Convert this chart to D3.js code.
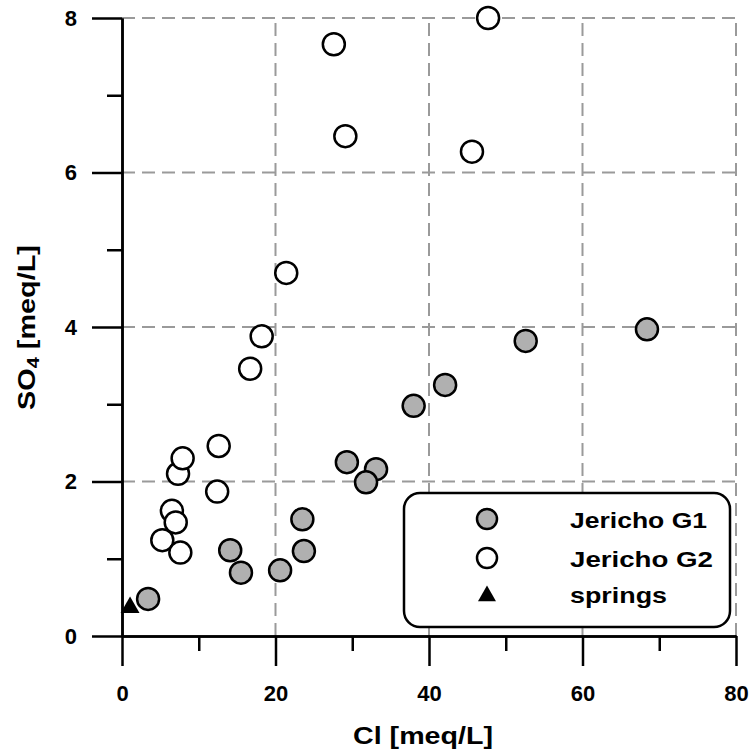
<!DOCTYPE html>
<html>
<head>
<meta charset="utf-8">
<script src="https://cdn.jsdelivr.net/npm/d3@7"></script>
<style>
  html, body { margin: 0; padding: 0; background: #fff; }
  svg { display: block; font-family: "Liberation Sans", Arial, sans-serif; }
</style>
</head>
<body>
<svg id="chart" width="749" height="755"></svg>
<script>
// Data
const g1X = [3.4, 14.1, 15.5, 20.6, 23.5, 23.7, 29.3, 33.1, 31.8, 38.0, 42.1, 52.6, 68.4];
const g1Y = [0.48, 1.11, 0.82, 0.85, 1.51, 1.10, 2.25, 2.16, 1.99, 2.98, 3.25, 3.82, 3.97];
const g2X = [5.25, 6.5, 7.0, 7.6, 7.3, 7.9, 12.4, 12.6, 16.7, 18.2, 21.4, 27.6, 29.1, 45.6, 47.7];
const g2Y = [1.24, 1.62, 1.47, 1.08, 2.10, 2.30, 1.87, 2.46, 3.46, 3.88, 4.70, 7.66, 6.47, 6.27, 8.0];
const springX = [1.05];
const springY = [0.37];
const xTicks = [0, 20, 40, 60, 80];
const yTicks = [0, 2, 4, 6, 8];
const xMinor = [10, 30, 50, 70];
const yMinor = [1, 3, 5, 7];
const legendLabels = ["Jericho G1", "Jericho G2", "springs"];

const svg = d3.select("#chart");
const x = d3.scaleLinear().domain([0, 80]).range([122, 736]);
const y = d3.scaleLinear().domain([0, 8]).range([636, 18]);

const gridColor = "#9a9a9a";
// grid
svg.append("g").selectAll("line").data(xTicks.filter(d => d > 0)).join("line")
  .attr("x1", d => x(d)).attr("x2", d => x(d))
  .attr("y1", y(0)).attr("y2", y(8))
  .attr("stroke", gridColor).attr("stroke-width", 2).attr("stroke-dasharray", "13,7");
svg.append("g").selectAll("line").data(yTicks.filter(d => d > 0)).join("line")
  .attr("y1", d => y(d)).attr("y2", d => y(d))
  .attr("x1", x(0)).attr("x2", x(80))
  .attr("stroke", gridColor).attr("stroke-width", 2).attr("stroke-dasharray", "13,7");

// axes
const xAxis = d3.axisBottom(x).tickValues(xTicks).tickSize(30).tickPadding(19).tickSizeOuter(0);
const xAxisMinor = d3.axisBottom(x).tickValues(xMinor).tickSize(15).tickFormat("").tickSizeOuter(0);
const yAxis = d3.axisLeft(y).tickValues(yTicks).tickSize(30).tickPadding(15).tickSizeOuter(0);
const yAxisMinor = d3.axisLeft(y).tickValues(yMinor).tickSize(15).tickFormat("").tickSizeOuter(0);

function styleAxis(g) {
  g.selectAll("path, line").attr("stroke", "#000").attr("stroke-width", 2.5);
  g.selectAll("text").attr("fill", "#000").attr("font-size", 22).attr("font-weight", "bold")
    .attr("font-family", "Liberation Sans, Arial, sans-serif");
}
svg.append("g").attr("transform", `translate(0,${y(0)})`).call(xAxis).call(styleAxis);
svg.append("g").attr("transform", `translate(0,${y(0)})`).call(xAxisMinor).call(styleAxis);
svg.append("g").attr("transform", `translate(${x(0)},0)`).call(yAxis).call(styleAxis);
svg.append("g").attr("transform", `translate(${x(0)},0)`).call(yAxisMinor).call(styleAxis);

// axis titles
svg.append("text").attr("x", 353).attr("y", 744)
  .attr("font-size", 23).attr("font-weight", "bold")
  .attr("textLength", 140).attr("lengthAdjust", "spacingAndGlyphs")
  .text("Cl [meq/L]");
const yt = svg.append("text").attr("transform", "translate(35,410) rotate(-90)")
  .attr("font-size", 23).attr("font-weight", "bold")
  .attr("textLength", 165).attr("lengthAdjust", "spacingAndGlyphs");
yt.append("tspan").text("SO");
yt.append("tspan").attr("font-size", 16).attr("dy", 4).text("4");
yt.append("tspan").attr("dy", -4).text(" [meq/L]");

// points
const r = 11;
svg.append("g").selectAll("circle").data(g1X.map((d, i) => [d, g1Y[i]])).join("circle")
  .attr("cx", d => x(d[0])).attr("cy", d => y(d[1])).attr("r", r)
  .attr("fill", "#b0b0b0").attr("stroke", "#000").attr("stroke-width", 2.5);
svg.append("g").selectAll("circle").data(g2X.map((d, i) => [d, g2Y[i]])).join("circle")
  .attr("cx", d => x(d[0])).attr("cy", d => y(d[1])).attr("r", r)
  .attr("fill", "#fff").attr("stroke", "#000").attr("stroke-width", 2.5);
const tri = d3.symbol().type(d3.symbolTriangle).size(155);
svg.append("g").selectAll("path").data(springX.map((d, i) => [d, springY[i]])).join("path")
  .attr("transform", d => `translate(${x(d[0])},${y(d[1])})`)
  .attr("d", tri).attr("fill", "#000");

// legend
const lg = svg.append("g");
lg.append("rect").attr("x", 404).attr("y", 493).attr("width", 326).attr("height", 134)
  .attr("rx", 16).attr("ry", 16).attr("fill", "#fff").attr("stroke", "#000").attr("stroke-width", 2.5);
const rows = [519, 558, 596];
lg.append("circle").attr("cx", 487).attr("cy", rows[0]).attr("r", 10)
  .attr("fill", "#b0b0b0").attr("stroke", "#000").attr("stroke-width", 2.5);
lg.append("circle").attr("cx", 487).attr("cy", rows[1]).attr("r", 10)
  .attr("fill", "#fff").attr("stroke", "#000").attr("stroke-width", 2.5);
lg.append("path").attr("transform", `translate(487,${rows[2]})`)
  .attr("d", d3.symbol().type(d3.symbolTriangle).size(140)).attr("fill", "#000");
const legendWidths = [137, 143, 97];
const legendBase = [528, 567, 603];
lg.selectAll("text").data(legendLabels).join("text")
  .attr("x", 570).attr("y", (d, i) => legendBase[i])
  .attr("font-size", 22).attr("font-weight", "bold")
  .attr("textLength", (d, i) => legendWidths[i]).attr("lengthAdjust", "spacingAndGlyphs")
  .text(d => d);
</script>
</body>
</html>
